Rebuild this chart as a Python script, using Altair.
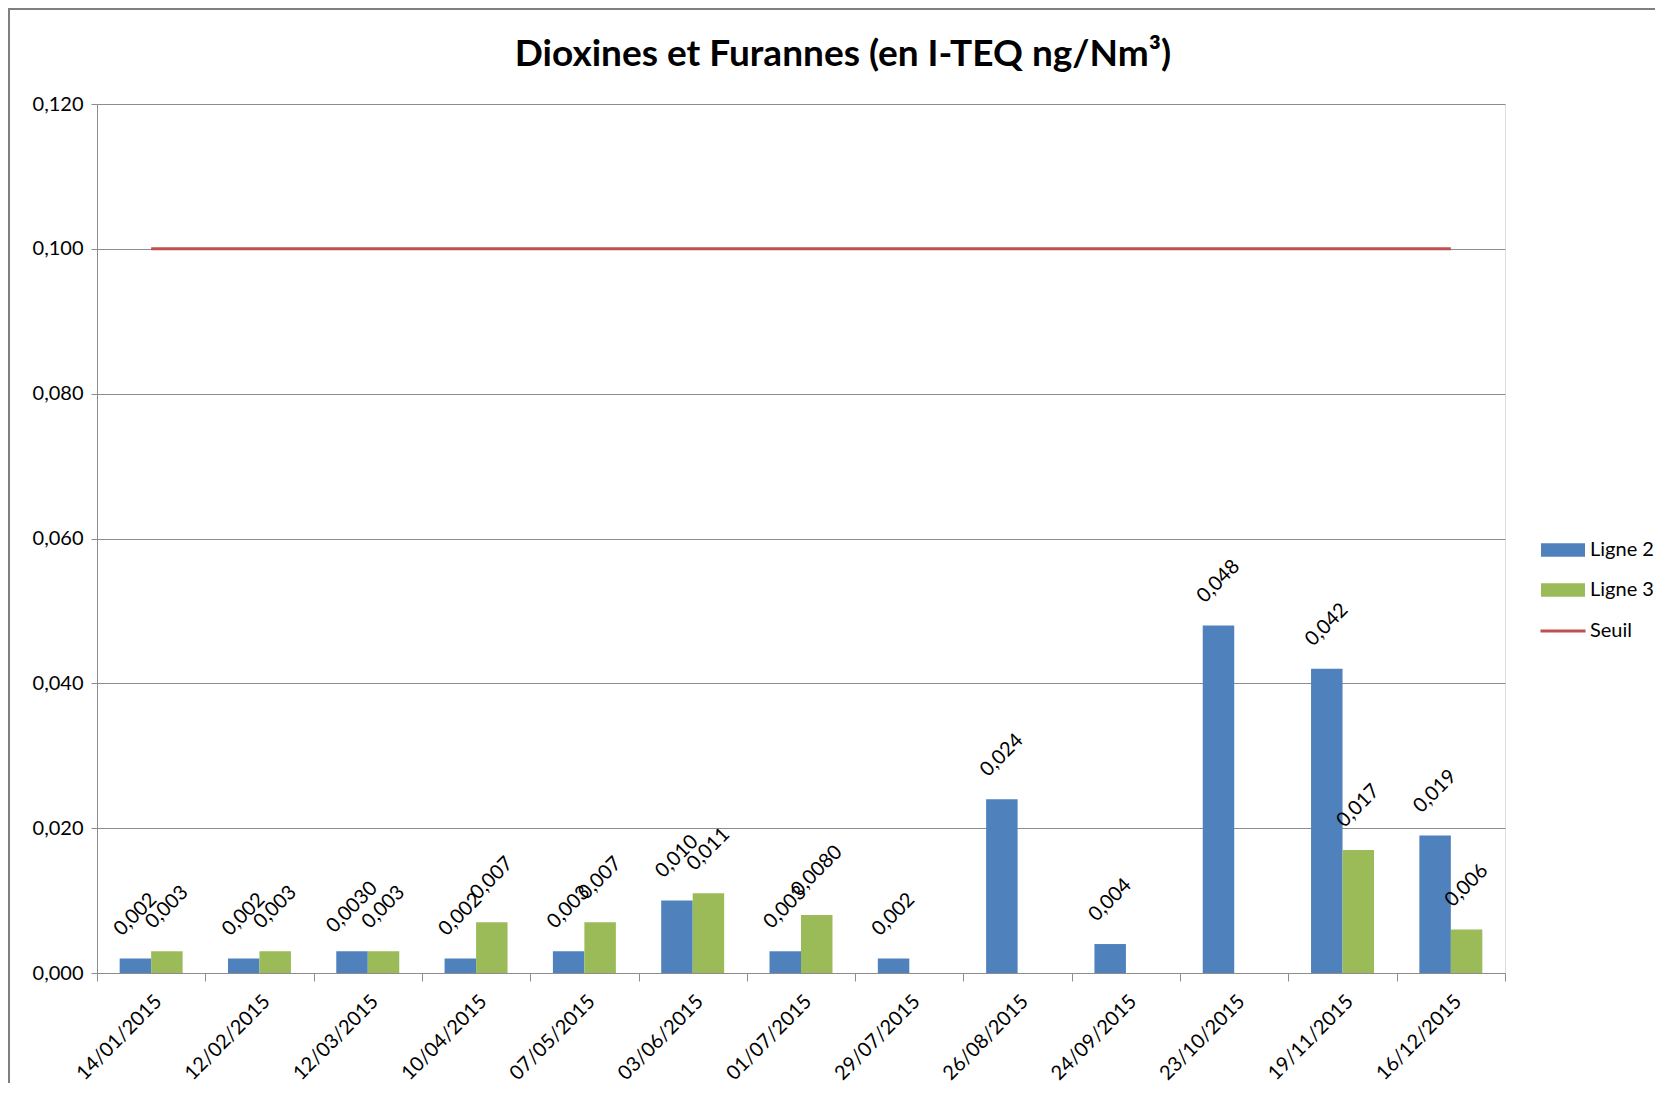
import altair as alt
import pandas as pd

dates = ["14/01/2015", "12/02/2015", "12/03/2015", "10/04/2015", "07/05/2015",
         "03/06/2015", "01/07/2015", "29/07/2015", "26/08/2015", "24/09/2015",
         "23/10/2015", "19/11/2015", "16/12/2015"]
ligne2 = [0.002, 0.002, 0.003, 0.002, 0.003, 0.010, 0.003, 0.002, 0.024, 0.004, 0.048, 0.042, 0.019]
ligne3 = [0.003, 0.003, 0.003, 0.007, 0.007, 0.011, 0.008, None, None, None, None, 0.017, 0.006]
labels2 = ["0,002", "0,002", "0,0030", "0,002", "0,003", "0,010", "0,003", "0,002",
           "0,024", "0,004", "0,048", "0,042", "0,019"]
labels3 = ["0,003", "0,003", "0,003", "0,007", "0,007", "0,011", "0,0080", None,
           None, None, None, "0,017", "0,006"]
seuil = [0.100, 0.100, 0.100, 0.100, 0.100, 0.100, 0.100, 0.100, 0.100, 0.100, 0.100, 0.100, 0.100]
series = ["Ligne 2", "Ligne 3"]
y_ticks = [0.0, 0.02, 0.04, 0.06, 0.08, 0.10, 0.12]

FONT = "Lato"
BLUE, GREEN, RED = "#4F81BD", "#9BBB59", "#C0504D"
GRID = "#8c8c8c"

rows = []
for d, v, l in zip(dates, ligne2, labels2):
    if v is not None:
        rows.append({"date": d, "series": "Ligne 2", "value": v, "label": l})
for d, v, l in zip(dates, ligne3, labels3):
    if v is not None:
        rows.append({"date": d, "series": "Ligne 3", "value": v, "label": l})
bars_df = pd.DataFrame(rows)
seuil_df = pd.DataFrame({"date": dates, "value": seuil, "name": ["Seuil"] * len(dates)})

x_enc = alt.X(
    "date:N", sort=dates,
    scale=alt.Scale(paddingInner=0, paddingOuter=0),
    axis=alt.Axis(
        title=None, labelAngle=315, labelFont=FONT, labelFontSize=20, labelColor="#000000",
        labelPadding=10, tickBand="extent", tickSize=8, tickColor=GRID, domainColor=GRID,
        grid=False, labelAlign="right", labelBaseline="top",
    ),
)
y_enc = alt.Y(
    "value:Q",
    scale=alt.Scale(domain=[0, 0.12], nice=False),
    axis=alt.Axis(
        title=None, values=y_ticks, labelExpr="replace(format(datum.value, '.3f'), '.', ',')",
        labelFont=FONT, labelFontSize=20, labelColor="#000000", labelPadding=8,
        tickSize=6, tickColor=GRID, domainColor=GRID, gridColor=GRID, gridWidth=1,
    ),
)
xoff = alt.XOffset("series:N", scale=alt.Scale(domain=series, paddingOuter=0.72, paddingInner=0))

bars = alt.Chart(bars_df).mark_bar().encode(
    x=x_enc, xOffset=xoff, y=y_enc,
    fill=alt.Fill(
        "series:N",
        scale=alt.Scale(domain=series, range=[BLUE, GREEN]),
        legend=alt.Legend(
            title=None, orient="none", legendX=1452, legendY=432, padding=0,
            symbolType="M-1.6,-0.5H1.6V0.5H-1.6Z", symbolSize=756, symbolStrokeWidth=0,
            labelFont=FONT, labelFontSize=20, labelColor="#000000", labelOffset=13,
            rowPadding=16,
        ),
    ),
)

texts = alt.Chart(bars_df).mark_text(
    angle=315, radius=44, align="center", baseline="middle",
    font=FONT, fontSize=20, color="#000000",
).encode(x=x_enc, xOffset=xoff, y=y_enc, text="label:N")

line = alt.Chart(seuil_df).mark_line(strokeWidth=3).encode(
    x=x_enc, y=y_enc,
    stroke=alt.Stroke(
        "name:N",
        scale=alt.Scale(domain=["Seuil"], range=[RED]),
        legend=alt.Legend(
            title=None, orient="none", legendX=1442, legendY=503, padding=0,
            symbolType="stroke", symbolSize=2025, symbolStrokeWidth=3,
            labelFont=FONT, labelFontSize=20, labelColor="#000000", labelOffset=3,
        ),
    ),
)

frame = alt.Chart(pd.DataFrame({"k": [0]})).mark_rect(
    fillOpacity=0, stroke="#7f7f7f", strokeWidth=2
).encode(
    x=alt.value(-88), y=alt.value(-95), x2=alt.value(1700), y2=alt.value(1100)
)

chart = alt.layer(frame, bars, texts, line).properties(
    width=1408, height=869,
    autosize=alt.AutoSizeParams(type="none"),
    padding={"left": 89, "top": 96, "right": 150, "bottom": 110},
    title=alt.TitleParams(
        "Dioxines et Furannes (en I-TEQ ng/Nm³)",
        font=FONT, fontSize=37, fontWeight="bold", color="#000000",
        anchor="middle", frame="group", dx=42, dy=98, offset=32,
    ),
).configure_view(stroke=None).configure(background="white")

chart.save("out.html", embed_options={"renderer": "svg", "actions": False})
